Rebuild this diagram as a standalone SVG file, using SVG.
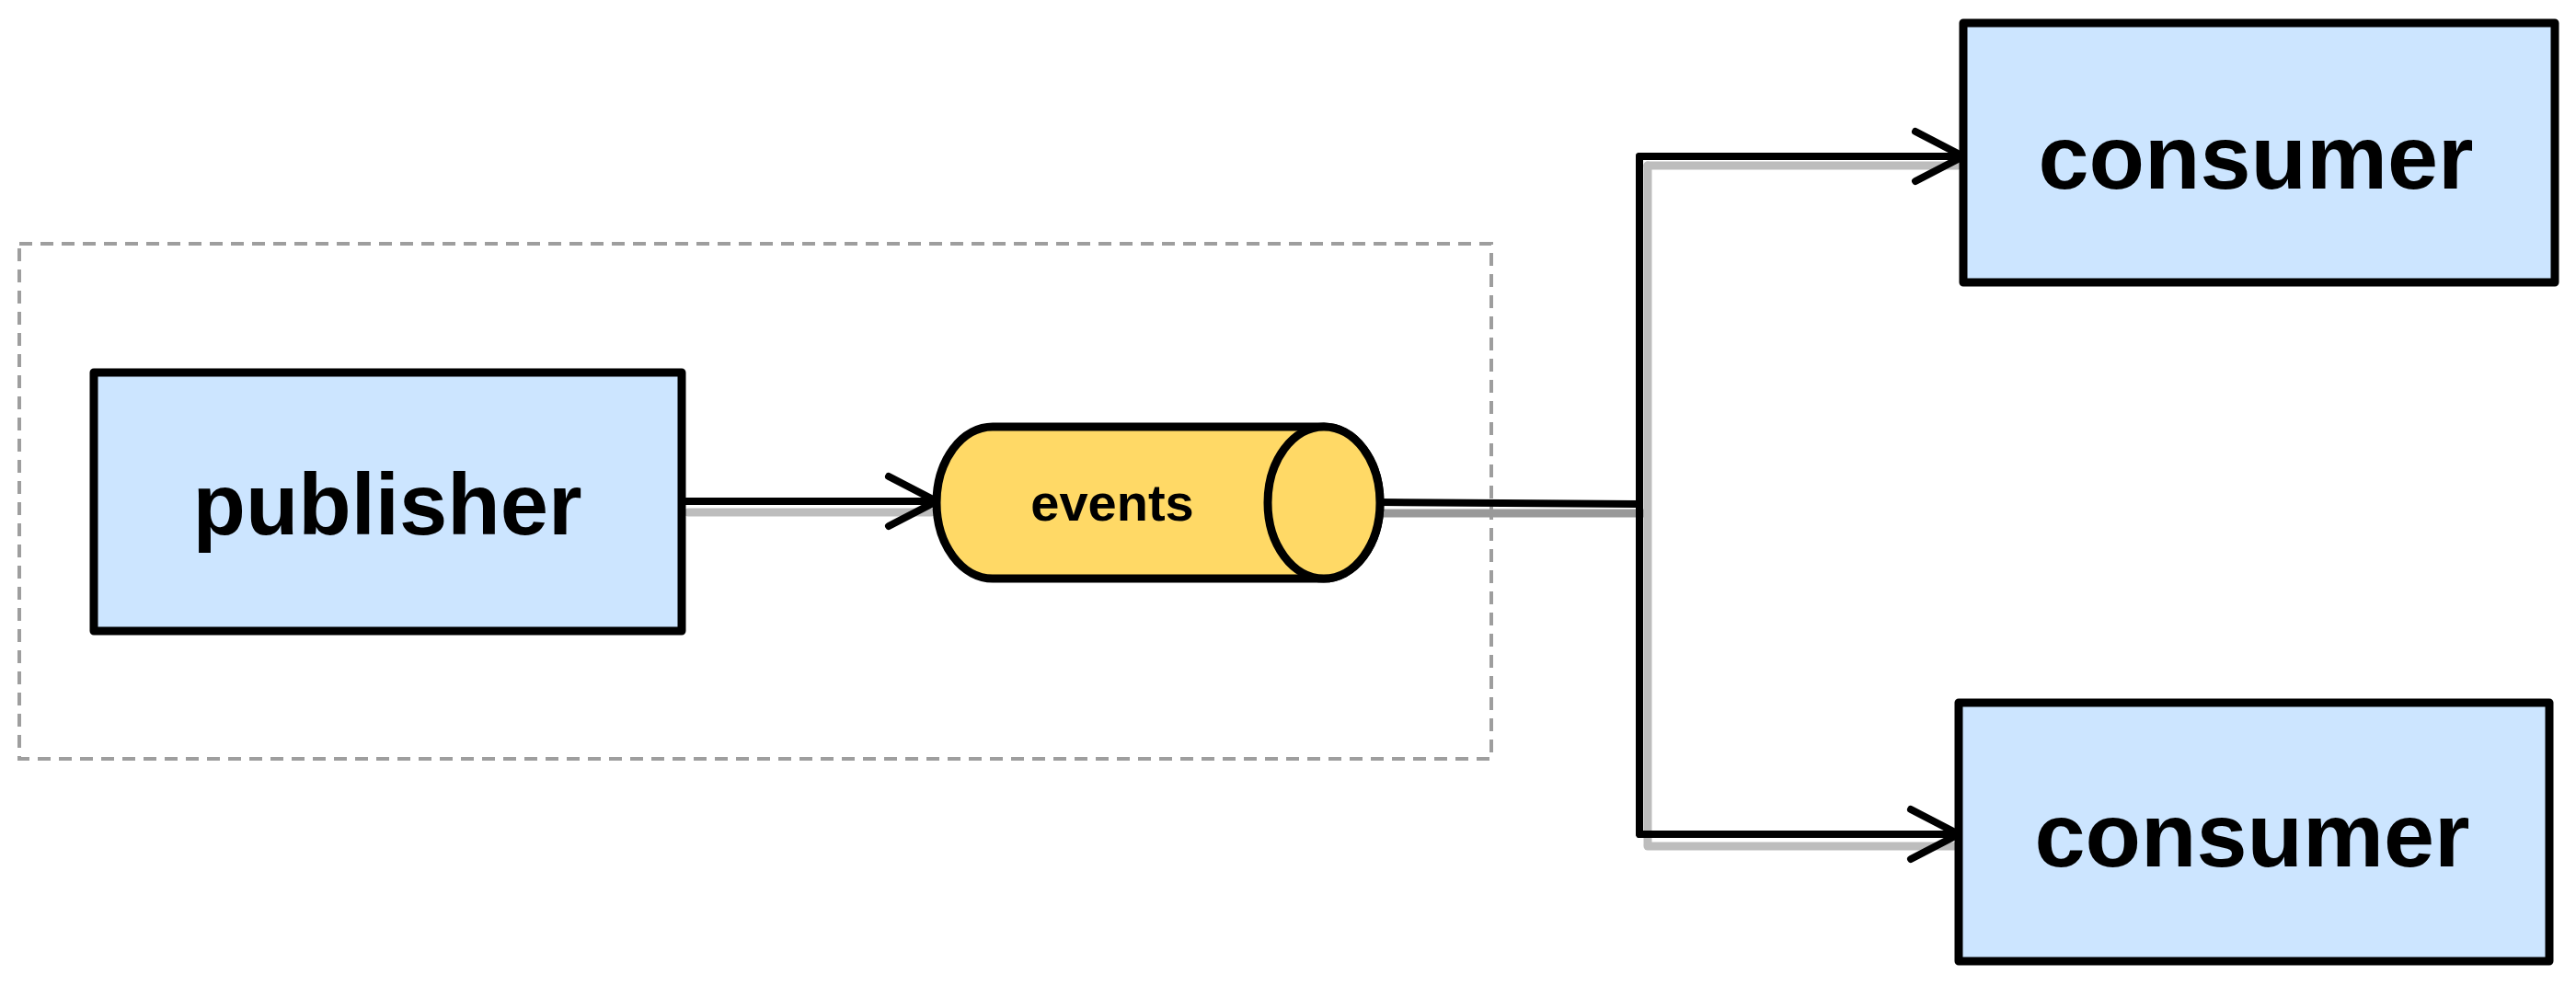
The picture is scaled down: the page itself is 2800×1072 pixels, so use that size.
<svg xmlns="http://www.w3.org/2000/svg" width="2800" height="1072" viewBox="0 0 2800 1072">
  <style>
    .box { fill: #cce5ff; stroke: #000; stroke-width: 9; stroke-linejoin: round; }
    .cyl { fill: #ffd966; stroke: #000; stroke-width: 9; stroke-linejoin: round; }
    .lbl { font-family: "Liberation Sans", Arial, sans-serif; font-weight: bold; fill: #000; text-anchor: middle; dominant-baseline: central; }
    .pub { font-size: 94px; }
    .con { font-size: 99px; }
    .small { font-size: 56px; }
    .wire { fill: none; stroke: #000; stroke-width: 8; stroke-linecap: round; stroke-linejoin: round; }
    .shadow { fill: none; stroke: #bdbdbd; stroke-width: 9; stroke-linecap: round; }
    .shadow-dark { fill: none; stroke: #999; stroke-width: 9; stroke-linecap: round; }
    .group { fill: none; stroke: #9e9e9e; stroke-width: 4; stroke-dasharray: 14 9; }
  </style>
  <defs>
    <marker id="arr" viewBox="0 0 64 64" markerWidth="64" markerHeight="64" refX="58" refY="32" orient="auto" markerUnits="userSpaceOnUse">
      <path d="M6 5 L58 32 L6 59" fill="none" stroke="#000" stroke-width="8" stroke-linecap="round" stroke-linejoin="round"/>
    </marker>
  </defs>
  <rect width="2800" height="1072" fill="#ffffff"/>

  <g id="group-boundary">
    <rect class="group" x="21" y="265" width="1600" height="560"/>
  </g>

  <g id="connectors">
    <line class="shadow" x1="748" y1="557" x2="1012" y2="557"/>
    <line class="shadow-dark" x1="1504" y1="558" x2="1788" y2="558"/>
    <line class="shadow" x1="1791" y1="180" x2="1791" y2="918"/>
    <line class="shadow" x1="1791" y1="180" x2="2128" y2="180"/>
    <line class="shadow" x1="1791" y1="920" x2="2124" y2="920"/>
    <line class="wire" x1="744" y1="545" x2="1018" y2="545" marker-end="url(#arr)"/>
    <line class="wire" x1="1500" y1="546" x2="1782" y2="548"/>
    <path class="wire" d="M1782 170 L1782 907"/>
    <path class="wire" d="M1782 170 L2134 170" marker-end="url(#arr)"/>
    <path class="wire" d="M1782 907 L2129 907" marker-end="url(#arr)"/>
  </g>

  <g id="publisher">
    <rect class="box" x="102" y="405" width="639" height="281"/>
    <text class="lbl pub" x="421" y="548">publisher</text>
  </g>

  <g id="events">
    <path class="cyl" d="M1079 464 L1439 464 A61 82.5 0 0 1 1439 629 L1079 629 A61 82.5 0 0 1 1079 464 Z"/>
    <ellipse class="cyl" cx="1439" cy="546.5" rx="61" ry="82.5"/>
    <text class="lbl small" x="1209" y="546">events</text>
  </g>

  <g id="consumer-top">
    <rect class="box" x="2134" y="25" width="643" height="282"/>
    <text class="lbl con" x="2452" y="170">consumer</text>
  </g>

  <g id="consumer-bottom">
    <rect class="box" x="2129" y="764" width="642" height="281"/>
    <text class="lbl con" x="2448" y="907">consumer</text>
  </g>
</svg>
